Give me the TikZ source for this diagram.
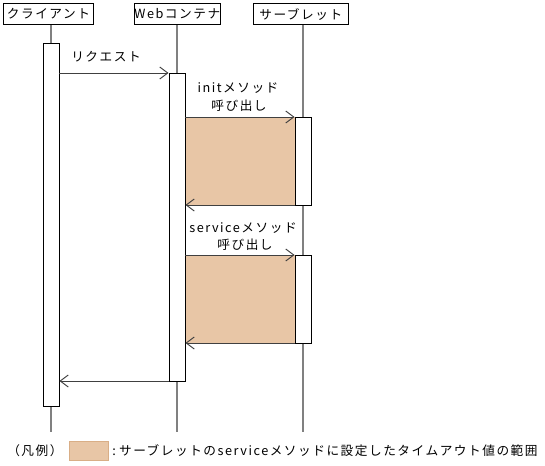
\documentclass[tikz,border=0pt]{standalone}
\usepackage{fontspec}
\setmainfont[LetterSpace=12]{Noto Sans CJK JP}
\usetikzlibrary{arrows.meta}
\definecolor{tfill}{HTML}{E8C6A6}
\definecolor{tedge}{HTML}{D9AE86}
\definecolor{lline}{HTML}{808080}
\begin{document}
\begin{tikzpicture}[x=0.75pt,y=-0.75pt,
  every node/.style={font=\fontsize{9.5pt}{11pt}\selectfont, inner sep=0pt},
  header/.style={draw=black, line width=0.7pt, fill=white, minimum height=16pt, anchor=north west},
  lifeline/.style={draw=lline, line width=1.2pt},
  actbox/.style={draw=black, line width=0.7pt, fill=white, minimum width=12pt, anchor=north},
  msg/.style={draw=black!75, line width=0.7pt, -{Straight Barb[length=6pt,width=9pt]}},
  timeout/.style={fill=tfill, draw=none},
  lbl/.style={align=center}
]
\useasboundingbox (0,0) rectangle (545,465);

% timeout ranges (drawn first)
\fill[timeout] (185,117) rectangle (295,205);
\fill[timeout] (185,255) rectangle (295,343);

% headers
\node[header, minimum width=67.5pt] (hc) at (3,3) {クライアント};
\node[header, minimum width=59pt] (hw) at (134,3) {Webコンテナ};
\node[header, minimum width=71pt] (hs) at (253,3) {サーブレット};

% lifeline ends
\coordinate (ec) at (51,432);
\coordinate (ew) at (177,432);
\coordinate (es) at (303,432);
\draw[lifeline] (hc.south -| ec) -- (ec);
\draw[lifeline] (hw.south -| ew) -- (ew);
\draw[lifeline] (hs.south -| es) -- (es);

% activation boxes
\node[actbox, minimum height=272.25pt] (ca) at (51,43) {};
\node[actbox, minimum height=231pt] (wa) at (177,73) {};
\node[actbox, minimum height=66pt] (sa1) at (303,117) {};
\node[actbox, minimum height=66pt] (sa2) at (303,255) {};

% message rows
\coordinate (rreq) at (0,73);
\coordinate (rinit) at (0,117);
\coordinate (rinitret) at (0,205);
\coordinate (rsvc) at (0,255);
\coordinate (rsvcret) at (0,343);
\coordinate (rresp) at (0,381);

\draw[msg] (rreq -| ca.east) -- (rreq -| wa.west);
\draw[msg] (rinit -| wa.east) -- (rinit -| sa1.west);
\draw[msg] (rinitret -| sa1.west) -- (rinitret -| wa.east);
\draw[msg] (rsvc -| wa.east) -- (rsvc -| sa2.west);
\draw[msg] (rsvcret -| sa2.west) -- (rsvcret -| wa.east);
\draw[msg] (rresp -| wa.west) -- (rresp -| ca.east);

% labels
\node[lbl] (lreq) at (106,57) {リクエスト};
\node[lbl] (linit1) at (238,88) {initメソッド};
\node[lbl] (linit2) at (239,106) {呼び出し};
\node[lbl] (lsvc1) at (243,228) {serviceメソッド};
\node[lbl] (lsvc2) at (245,245) {呼び出し};

% legend
\node[anchor=west] (leg) at (7,451) {（凡例）};
\node[fill=tfill, draw=tedge, line width=0.7pt, minimum width=29pt, minimum height=14pt, anchor=west] (sw) at (69,451) {};
\node[anchor=west] (legt) at (112,451) {:\hspace{2.5pt}サーブレットのserviceメソッドに設定したタイムアウト値の範囲};
\end{tikzpicture}
\end{document}
